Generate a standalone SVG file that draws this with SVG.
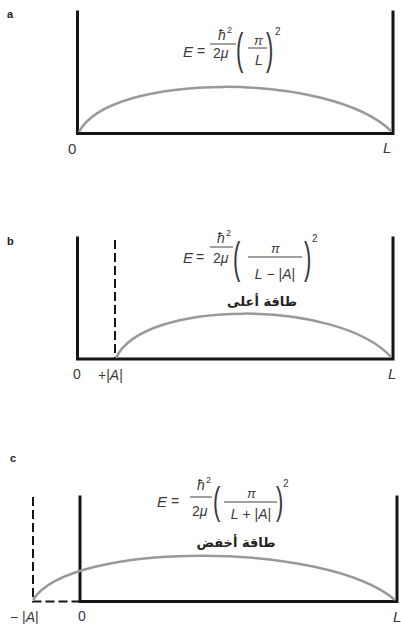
<svg xmlns="http://www.w3.org/2000/svg" width="401" height="624" viewBox="0 0 401 624">
<style>
.wall{stroke:#151515;stroke-width:3;fill:none;stroke-linecap:square}
.dash{stroke:#151515;stroke-width:2;fill:none;stroke-dasharray:9 4}
.wave{stroke:#999;stroke-width:2.5;fill:none}
.bar{stroke:#444;stroke-width:1}
text{font-family:"Liberation Sans",Arial,sans-serif;fill:#3a3a3a}
.v{font-style:italic;font-size:15px}
.n{font-size:14px}
.s{font-size:9px}
.p{font-size:44px}
.lab{font-size:11px;font-weight:bold;fill:#222}
.ar{font-family:"DejaVu Sans","Noto Sans",sans-serif;font-weight:bold;font-size:13px;fill:#222}
</style>
<rect width="401" height="624" fill="#fff"/>
<g id="panel-a">
<text class="lab" x="7" y="18">a</text>
<path class="wall" d="M77.5,12V133.5H393V12"/>
<path class="wave" d="M79,132 C110,72 330,72 391,131"/>
<text class="v" x="183" y="57">E</text>
<text class="n" x="197" y="56">=</text>
<text class="v" x="218" y="40" style="font-size:14px">ħ</text>
<text class="s" x="227" y="33">2</text>
<line class="bar" x1="210" y1="44" x2="236" y2="44"/>
<text class="n" x="213" y="58">2<tspan font-style="italic">μ</tspan></text>
<text class="p" transform="translate(236,64) scale(0.5,1)">(</text>
<text class="v" x="254" y="45" style="font-size:13px">π</text>
<line class="bar" x1="248" y1="48" x2="267" y2="48"/>
<text class="v" x="255" y="65" style="font-size:14px">L</text>
<text class="p" transform="translate(266,64) scale(0.5,1)">)</text>
<text class="s" x="275" y="35" style="font-size:10px">2</text>
<text class="n" x="68" y="154" style="font-size:15px">0</text>
<text class="v" x="383" y="153">L</text>
</g>
<g id="panel-b">
<text class="lab" x="7" y="245">b</text>
<path class="wall" d="M77.5,238V359H393V238"/>
<line class="dash" x1="115" y1="240" x2="115" y2="358"/>
<path class="wave" d="M116,358 C143,299 338,299 391,357"/>
<text class="v" x="183" y="263">E</text>
<text class="n" x="196" y="262">=</text>
<text class="v" x="217" y="243" style="font-size:14px">ħ</text>
<text class="s" x="226" y="236">2</text>
<line class="bar" x1="210" y1="247" x2="233" y2="247"/>
<text class="n" x="213" y="263">2<tspan font-style="italic">μ</tspan></text>
<text class="p" transform="translate(233,273) scale(0.5,1)">(</text>
<text class="v" x="271" y="253" style="font-size:13px">π</text>
<line class="bar" x1="248" y1="257" x2="302" y2="257"/>
<text class="n" x="275" y="279" text-anchor="middle"><tspan font-style="italic">L</tspan> − |<tspan font-style="italic">A</tspan>|</text>
<text class="p" transform="translate(304,273) scale(0.5,1)">)</text>
<text class="s" x="312" y="242" style="font-size:10px">2</text>
<text class="ar" x="262" y="306" text-anchor="middle">طاقة أعلى</text>
<text class="n" x="73" y="379">0</text>
<text class="n" x="98" y="380">+|<tspan font-style="italic">A</tspan>|</text>
<text class="v" x="388" y="379">L</text>
</g>
<g id="panel-c">
<text class="lab" x="10" y="462">c</text>
<path class="wall" d="M80,497V601.5H397V497"/>
<path class="dash" d="M33,497V601.5H80"/>
<path class="wave" d="M33,600 C69,541 326,541 395,600"/>
<text class="v" x="157" y="507">E</text>
<text class="n" x="171" y="506">=</text>
<text class="v" x="197" y="490" style="font-size:14px">ħ</text>
<text class="s" x="206" y="483">2</text>
<line class="bar" x1="190" y1="497" x2="212" y2="497"/>
<text class="n" x="192" y="516">2<tspan font-style="italic">μ</tspan></text>
<text class="p" transform="translate(213,514) scale(0.5,0.9)">(</text>
<text class="v" x="247" y="498" style="font-size:13px">π</text>
<line class="bar" x1="224" y1="502" x2="277" y2="502"/>
<text class="n" x="251" y="519" text-anchor="middle"><tspan font-style="italic">L</tspan> + |<tspan font-style="italic">A</tspan>|</text>
<text class="p" transform="translate(276,514) scale(0.5,0.9)">)</text>
<text class="s" x="283" y="487" style="font-size:10px">2</text>
<text class="ar" x="236" y="547" text-anchor="middle">طاقة أخفض</text>
<text class="n" x="10" y="622">− |<tspan font-style="italic">A</tspan>|</text>
<text class="n" x="78" y="621">0</text>
<text class="v" x="393" y="622">L</text>
</g>
</svg>
